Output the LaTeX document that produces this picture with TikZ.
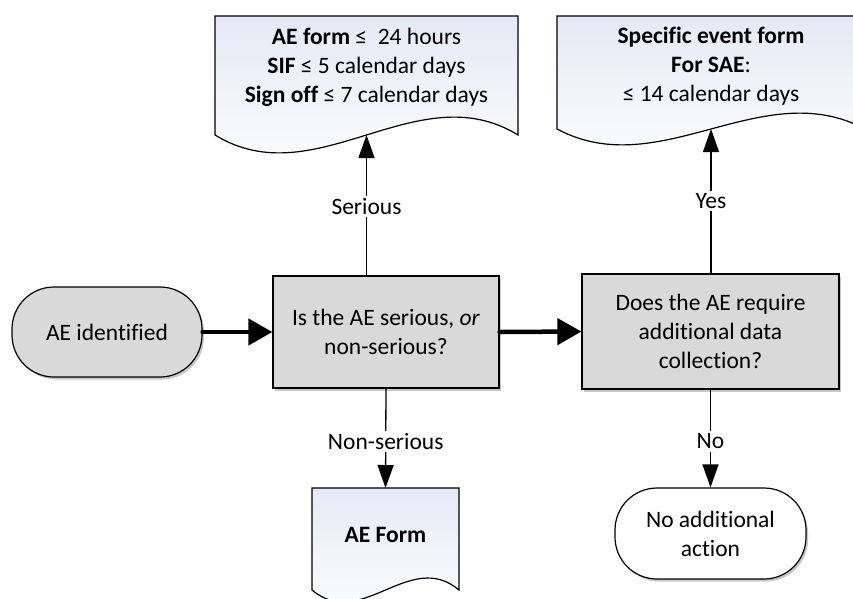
\documentclass[tikz,border=0pt]{standalone}
\usepackage{fontspec}
\setmainfont{Carlito}[Ligatures=NoCommon]
\usetikzlibrary{arrows.meta,shadows,calc}
\definecolor{docblue}{RGB}{228,234,245}
\definecolor{boxgray}{RGB}{217,217,217}
\begin{document}
\begin{tikzpicture}[x=1pt,y=-1pt,
  every node/.style={font=\fontsize{23.5}{29}\selectfont, text=black},
  shad/.style={drop shadow={shadow xshift=2pt,shadow yshift=-2.5pt,opacity=0.22,fill=black}},
  procbox/.style={draw, line width=1.2pt, fill=boxgray, align=center, shad},
  termbox/.style={draw, line width=1.2pt, rounded corners=42pt, align=center, shad},
  docshape/.style={draw, line width=1.2pt, top color=docblue, bottom color=white},
  doctext/.style={align=center},
  thinarrow/.style={line width=1.3pt, -{Triangle[length=23pt,width=16pt]}},
  thickarrow/.style={line width=4.5pt, line cap=round, -{Triangle[length=24pt,width=26pt]}},
  lbl/.style={fill=white, inner sep=2.5pt}
]
\useasboundingbox (0,0) rectangle (853,598);
\clip (0,0) rectangle (853,598);

% document shapes
\path[docshape] (215,16) -- (518,16) -- (518,135)
  .. controls (417,73) and (316,197) .. (215,135) -- cycle;
\path[docshape] (557,16) -- (865,16) -- (865,129)
  .. controls (762,74) and (660,184) .. (557,129) -- cycle;
\path[docshape] (312,488) -- (459,488) -- (459,590)
  .. controls (410,548.5) and (361,631.5) .. (312,590) -- cycle;

\coordinate (doc1b) at (366.5,135);
\coordinate (doc2b) at (711,129);
\coordinate (doc3t) at (385.5,488);

\node[doctext] (doc1) at (366.5,67)
  {\textbf{AE form} ≤~ 24 hours\\\textbf{SIF} ≤ 5 calendar days\\\textbf{Sign off} ≤ 7 calendar days};
\node[doctext] (doc2) at (711,66)
  {\textbf{Specific event form}\\\textbf{For SAE}:\\≤ 14 calendar days};
\node[doctext] (doc3) at (385.5,535) {\textbf{AE Form}};

% process and terminator nodes
\node[termbox, fill=boxgray, minimum width=190pt, minimum height=90pt] (start) at (107,332) {AE identified};
\node[procbox, minimum width=226pt, minimum height=112pt] (q1) at (386,332) {Is the AE serious, \textit{or}\\non-serious?};
\node[procbox, minimum width=257pt, minimum height=115pt] (q2) at (710.5,331.5) {Does the AE require\\additional data\\collection?};
\node[termbox, fill=white, minimum width=191pt, minimum height=91pt] (stop) at (710.5,533.5) {No additional\\action};

% connectors
\draw[thickarrow] (start.east) -- (q1.west);
\draw[thickarrow] (q1.east) -- (q2.west);
\draw[thinarrow] (q1.north -| doc1b) -- node[lbl, pos=0.49] {Serious} (doc1b);
\draw[thinarrow] (q2.north -| doc2b) -- node[lbl, pos=0.5] {Yes} (doc2b);
\draw[thinarrow] (q1.south) -- node[lbl, pos=0.53] {Non-serious} (doc3t);
\draw[thinarrow] (q2.south) -- node[lbl, pos=0.53] {No} (stop.north);
\end{tikzpicture}
\end{document}
